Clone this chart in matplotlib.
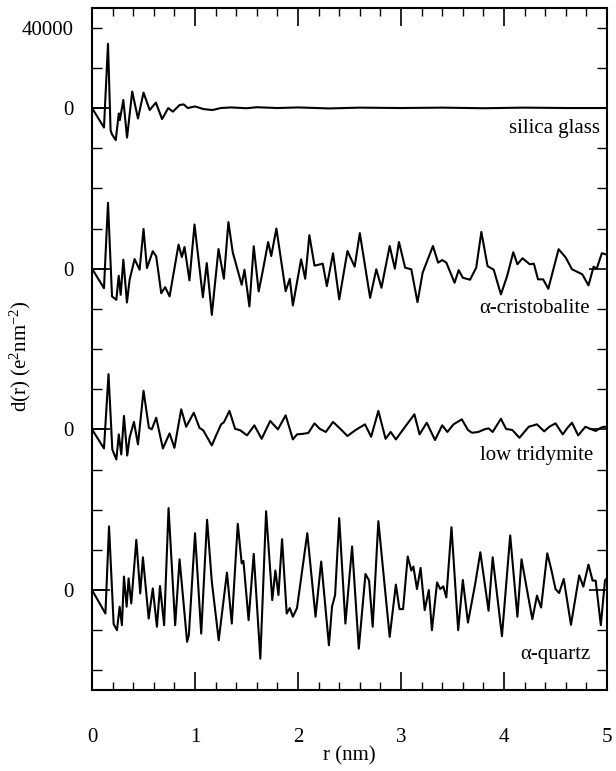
import matplotlib
matplotlib.use('Agg')
import matplotlib.pyplot as plt

plt.rcParams['font.family'] = ['Liberation Serif', 'DejaVu Serif']
plt.rcParams['mathtext.fontset'] = 'custom'
plt.rcParams['mathtext.rm'] = 'Liberation Serif'
plt.rcParams['mathtext.it'] = 'Liberation Serif:italic'

# silica glass
r_glass = [0, 0.116, 0.155, 0.18, 0.193, 0.23, 0.26, 0.27, 0.304, 0.34, 0.39, 0.446,
           0.50, 0.56, 0.62, 0.68, 0.74, 0.785, 0.85, 0.89, 0.93, 1.0, 1.08, 1.17,
           1.25, 1.35, 1.5, 1.6, 1.8, 2.0, 2.3, 2.6, 3.0, 3.4, 3.8, 4.2, 4.6, 5.0]
d_glass = [0, -9700, 32000, -11000, -13000, -16000, -2700, -6000, 4000, -14700, 8200, -5200,
           7700, -1000, 2700, -5500, 0, -1800, 1500, 1800, 0, 800, -500, -1000,
           0, 300, -100, 400, 0, 300, -200, 200, 0, 200, -100, 200, 0, 0]

# alpha-cristobalite
r_cris = [0, 0.116, 0.155, 0.194, 0.236, 0.259, 0.278, 0.304, 0.339, 0.365, 0.413, 0.462,
          0.50, 0.533, 0.59, 0.623, 0.672, 0.71, 0.753, 0.84, 0.872, 0.898, 0.946, 0.995,
          1.076, 1.114, 1.163, 1.228, 1.28, 1.324, 1.366, 1.453, 1.48, 1.528, 1.57, 1.618,
          1.657, 1.71, 1.74, 1.79, 1.88, 1.92, 1.95, 2.03, 2.07, 2.11, 2.16, 2.24, 2.28,
          2.34, 2.40, 2.48, 2.55, 2.60, 2.70, 2.76, 2.81, 2.89, 2.94, 2.98, 3.04, 3.10,
          3.16, 3.21, 3.31, 3.36, 3.40, 3.44, 3.52, 3.56, 3.60, 3.67, 3.73, 3.78, 3.84,
          3.90, 3.97, 4.03, 4.09, 4.13, 4.18, 4.25, 4.29, 4.33, 4.38, 4.43, 4.53, 4.60,
          4.66, 4.76, 4.82, 4.87, 4.90, 4.95, 5.0]
d_cris = [0, -9700, 32800, -13800, -15500, -3500, -13000, 4500, -16800, -5500, 4800, -500,
          19800, 300, 8700, 6200, -12200, -9200, -13800, 12000, 5800, 10800, -5800, 22000,
          -14200, 2800, -23000, 9800, -5000, 23200, 8200, -8000, -500, -18800, 11200, -11300,
          -1300, 13300, 6300, 20000, -11200, -5000, -18300, 4700, -5000, 16700, 1500, 2500, -8700,
          7700, -15300, 8800, 1000, 17700, -14500, -300, -9500, 11300, 0, 13300, 500, -300,
          -16700, -2000, 11300, 3000, 4300, 3000, -7000, -700, -4500, -5500, 500, 18300, 1300,
          -500, -12800, -3700, 8200, 2200, 5200, 2200, 2500, -5300, -5300, -10000, 9700, 5500,
          -300, -2800, -8300, 1000, 0, 7700, 7000]

# low tridymite
r_trid = [0, 0.116, 0.16, 0.197, 0.236, 0.26, 0.284, 0.31, 0.342, 0.365, 0.407, 0.446,
          0.50, 0.552, 0.58, 0.623, 0.688, 0.753, 0.80, 0.866, 0.914, 0.988, 1.043, 1.08,
          1.163, 1.205, 1.253, 1.28, 1.334, 1.389, 1.44, 1.505, 1.576, 1.647, 1.73, 1.805,
          1.88, 1.95, 1.99, 2.05, 2.10, 2.16, 2.21, 2.27, 2.34, 2.41, 2.48, 2.56, 2.65,
          2.71, 2.78, 2.85, 2.90, 2.95, 3.04, 3.13, 3.18, 3.25, 3.33, 3.40, 3.45, 3.51,
          3.59, 3.65, 3.69, 3.75, 3.81, 3.85, 3.89, 3.97, 4.02, 4.08, 4.15, 4.24, 4.32,
          4.39, 4.44, 4.50, 4.57, 4.62, 4.66, 4.72, 4.79, 4.85, 4.89, 4.94, 4.97, 5.0]
d_trid = [0, -9500, 27500, -10000, -15000, -2500, -12500, 6700, -13000, -4000, 3700, -7500,
          19200, 800, 0, 5800, -9500, -2000, -9200, 10000, 1300, 8300, 800, -500,
          -8000, -3000, 2500, 3500, 9200, 300, -500, -3000, 2000, -4700, 4200, 0,
          7000, -5000, -2500, -2200, -1800, 3000, 300, -1300, 3700, 300, -3300, -300, 2500,
          -3700, 9200, -4700, -1300, -5000, 1300, 7500, -2500, 3300, -5300, 2000, -1300, 2500,
          5000, -300, -1700, -1300, 0, 500, -1300, 5300, 200, -300, -4200, 1300, 2500,
          -1000, 1300, 3000, -2500, 1000, 3300, -3000, 1300, 0, -800, 800, 1300, 1300]

# alpha-quartz
r_quar = [0, 0.13, 0.165, 0.21, 0.242, 0.268, 0.29, 0.31, 0.336, 0.355, 0.381, 0.43,
          0.468, 0.494, 0.55, 0.59, 0.63, 0.66, 0.70, 0.743, 0.807, 0.85, 0.923, 0.94,
          1.00, 1.06, 1.117, 1.163, 1.23, 1.31, 1.357, 1.415, 1.453, 1.47, 1.52, 1.57,
          1.634, 1.69, 1.75, 1.78, 1.81, 1.845, 1.89, 1.92, 1.95, 1.99, 2.09, 2.17, 2.225,
          2.30, 2.33, 2.36, 2.40, 2.46, 2.525, 2.59, 2.655, 2.69, 2.725, 2.78, 2.83, 2.89,
          2.95, 2.985, 3.02, 3.065, 3.10, 3.12, 3.155, 3.19, 3.23, 3.27, 3.30, 3.35, 3.38,
          3.41, 3.44, 3.49, 3.555, 3.60, 3.65, 3.72, 3.77, 3.85, 3.89, 3.98, 4.06, 4.13,
          4.17, 4.22, 4.275, 4.32, 4.36, 4.42, 4.46, 4.50, 4.535, 4.58, 4.65, 4.73, 4.77,
          4.82, 4.86, 4.89, 4.94, 4.98, 5.0]
d_quar = [0, -11700, 31700, -17000, -20000, -8300, -17500, 6700, -8300, 5800, -6700, 25000,
          -1700, 16300, -14200, 800, -18300, 2000, -17500, 40800, -17500, 15300, -25800, -22500,
          28300, -21700, 35000, 4200, -25000, 8700, -16700, 33000, 13300, 14500, -15000, 18000,
          -34200, 39200, -5000, 9700, -2500, 25300, -11700, -9000, -13300, -9000, 28300, -13300, 14200,
          -27500, -8300, -2500, 35800, -16700, 21700, -29200, 8000, 4700, -18300, 34300, 8000, -23300,
          2700, -9500, -9500, 16700, 9700, 11700, 500, 11000, -10000, 0, -20000, 3800, 500,
          1800, -3700, 31300, -20000, 5000, -16200, 3000, 18800, -10300, 16300, -23000, 27200, -13300,
          15300, 1000, -14500, -2800, -8700, 18300, 10000, 500, -1500, 5500, -17300, 7300, 1700,
          12700, 4700, 4700, -17500, 4700, 6000]

names = ['silica glass', 'α-cristobalite', 'low tridymite', 'α-quartz']
offsets = [0, -80000, -160000, -240000]
label_x = [4.93, 4.83, 4.865, 4.84]
label_y = [-9960, -99600, -172800, -271900]

fig = plt.figure(figsize=(6.16, 7.71), dpi=100)
ax = fig.add_axes([0.1494, 0.105, 0.836, 0.8846])

curves = [(r_glass, d_glass), (r_cris, d_cris), (r_trid, d_trid), (r_quar, d_quar)]
for (r, d), off in zip(curves, offsets):
    ax.plot(r, [v + off for v in d], color='black', lw=1.5, solid_joinstyle='round')
    ax.plot([0, 0.14], [off, off], color='black', lw=1.2)

for name, x, y in zip(names, label_x, label_y):
    ax.text(x, y, name, ha='right', va='center', fontsize=15)

ax.set_xlim(0, 5)
ax.set_ylim(-289800, 49800)

ax.set_xticks([0, 1, 2, 3, 4, 5])
ax.set_xticks([i * 0.2 for i in range(26)], minor=True)
minor_y = [v for v in range(-280000, 50000, 20000) if v not in offsets]
ax.set_yticks(offsets, labels=['0'] * 4)
ax.set_yticks(minor_y, labels=['40000' if v == 40000 else '' for v in minor_y], minor=True)

ax.tick_params(axis='x', which='both', direction='in', top=True, labelsize=15, pad=27)
ax.tick_params(axis='x', which='major', length=13, width=1.2)
ax.tick_params(axis='x', which='minor', length=6, width=1.0)
ax.tick_params(axis='y', which='both', direction='in', right=True, labelsize=15, pad=13)
ax.tick_params(axis='y', which='major', length=13, width=1.2)
ax.tick_params(axis='y', which='minor', length=7, width=1.0)
for s in ax.spines.values():
    s.set_linewidth(1.5)

ax.set_xlabel('r (nm)', fontsize=15)
ax.set_ylabel(r'd(r) (e$^{2}$nm$^{-2}$)', fontsize=15)
ax.xaxis.set_label_coords(0.5, -0.083)
ax.yaxis.set_label_coords(-0.115, 0.49)

fig.savefig('out.png', dpi=100)
